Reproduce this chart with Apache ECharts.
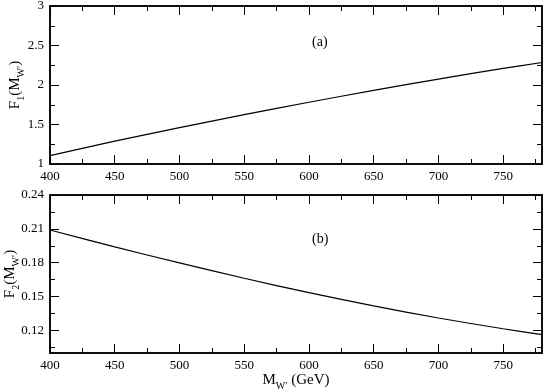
<!DOCTYPE html>
<html>
<head>
<meta charset="utf-8">
<script src="https://cdn.jsdelivr.net/npm/echarts@6.0.0/dist/echarts.min.js"></script>
<style>
html,body{margin:0;padding:0;background:#fff}
#main{width:545px;height:390px}
</style>
</head>
<body>
<div id="main"></div>
<script>
// data
var massX  = [400, 450, 500, 550, 600, 650, 700, 750, 780];
var f1Vals = [1.105, 1.29, 1.46, 1.625, 1.782, 1.932, 2.075, 2.21, 2.285];
var f2Vals = [0.209, 0.194, 0.1798, 0.1662, 0.1535, 0.1417, 0.131, 0.1215, 0.1162];

// tick positions
var xMajor  = [400, 450, 500, 550, 600, 650, 700, 750];
var xMinor  = [425, 475, 525, 575, 625, 675, 725, 775];
var y1Major = [1, 1.5, 2, 2.5, 3];
var y1Minor = [1.25, 1.75, 2.25, 2.75];
var y2Major = [0.12, 0.15, 0.18, 0.21, 0.24];
var y2Minor = [0.105, 0.135, 0.165, 0.195, 0.225];

var font = 'Liberation Serif';

function pairs(xs, ys) {
	var out = [];
	for (var i = 0; i < xs.length; i++) out.push([xs[i], ys[i]]);
	return out;
}

// one axis = one set of inward ticks (major or minor) on one side of a grid
// (axisLine has to stay on, otherwise the ticks are not drawn)
function tickAxis(grid, pos, min, max, values, len, showLabel) {
	return {
		type: 'value',
		gridIndex: grid,
		position: pos,
		min: min,
		max: max,
		splitLine: {show: false},
		axisLine: {show: true, onZero: false, lineStyle: {color: '#000', width: 1.5}},
		axisTick: {show: true, inside: true, length: len, customValues: values},
		axisLabel: {show: !!showLabel, customValues: values, margin: 6,
			fontFamily: font, fontSize: 13, color: '#000'}
	};
}

var nameStyle = {
	fontFamily: font, fontSize: 15, color: '#000',
	rich: {
		n: {fontFamily: font, fontSize: 15, color: '#000', lineHeight: 22, verticalAlign: 'middle'},
		s: {fontFamily: font, fontSize: 10, color: '#000', lineHeight: 12, verticalAlign: 'bottom'}
	}
};

var xAxes = [], yAxes = [];
// grid 0 : F1
xAxes.push(tickAxis(0, 'bottom', 400, 780, xMajor, 9, true));   // 0
xAxes.push(tickAxis(0, 'bottom', 400, 780, xMinor, 5));
xAxes.push(tickAxis(0, 'top', 400, 780, xMajor, 9));
xAxes.push(tickAxis(0, 'top', 400, 780, xMinor, 5));
yAxes.push(tickAxis(0, 'left', 1, 3, y1Major, 9, true));        // 0
yAxes.push(tickAxis(0, 'left', 1, 3, y1Minor, 5));
yAxes.push(tickAxis(0, 'right', 1, 3, y1Major, 9));
yAxes.push(tickAxis(0, 'right', 1, 3, y1Minor, 5));
// grid 1 : F2
xAxes.push(tickAxis(1, 'bottom', 400, 780, xMajor, 9, true));   // 4
xAxes.push(tickAxis(1, 'bottom', 400, 780, xMinor, 5));
xAxes.push(tickAxis(1, 'top', 400, 780, xMajor, 9));
xAxes.push(tickAxis(1, 'top', 400, 780, xMinor, 5));
yAxes.push(tickAxis(1, 'left', 0.10, 0.24, y2Major, 9, true));  // 4
yAxes.push(tickAxis(1, 'left', 0.10, 0.24, y2Minor, 5));
yAxes.push(tickAxis(1, 'right', 0.10, 0.24, y2Major, 9));
yAxes.push(tickAxis(1, 'right', 0.10, 0.24, y2Minor, 5));

// axis names
yAxes[0].name = '{n|F}{s|1}{n|(M}{s|W\u2032}{n|)}';
yAxes[4].name = '{n|F}{s|2}{n|(M}{s|W\u2032}{n|)}';
xAxes[4].name = '{n|M}{s|W\u2032}{n| (GeV)}';
[yAxes[0], yAxes[4]].forEach(function (ax) {
	ax.nameLocation = 'middle';
	ax.nameRotate = 90;
	ax.nameMoveOverlap = false;
	ax.nameTextStyle = nameStyle;
});
yAxes[0].nameGap = 24;
yAxes[4].nameGap = 29;
xAxes[4].nameLocation = 'middle';
xAxes[4].nameGap = 15;
xAxes[4].nameTextStyle = nameStyle;

var myChart = echarts.init(document.getElementById('main'));
var option = {
	animation: false,
	backgroundColor: '#fff',
	grid: [
		{left: 50, top: 6, width: 492, height: 158, outerBoundsMode: 'none'},
		{left: 50, top: 195, width: 492, height: 158, outerBoundsMode: 'none'}
	],
	xAxis: xAxes,
	yAxis: yAxes,
	graphic: [
		{type: 'text', left: 312, top: 35, style: {text: '(a)', fontFamily: font, fontSize: 14, fill: '#000'}},
		{type: 'text', left: 312, top: 232, style: {text: '(b)', fontFamily: font, fontSize: 14, fill: '#000'}}
	],
	series: [
		{
			type: 'line', xAxisIndex: 0, yAxisIndex: 0,
			data: pairs(massX, f1Vals),
			symbol: 'none', smooth: 0.3,
			lineStyle: {color: '#000', width: 1.2}
		},
		{
			type: 'line', xAxisIndex: 4, yAxisIndex: 4,
			data: pairs(massX, f2Vals),
			symbol: 'none', smooth: 0.3,
			lineStyle: {color: '#000', width: 1.2}
		}
	]
};
myChart.setOption(option);
</script>
</body>
</html>
